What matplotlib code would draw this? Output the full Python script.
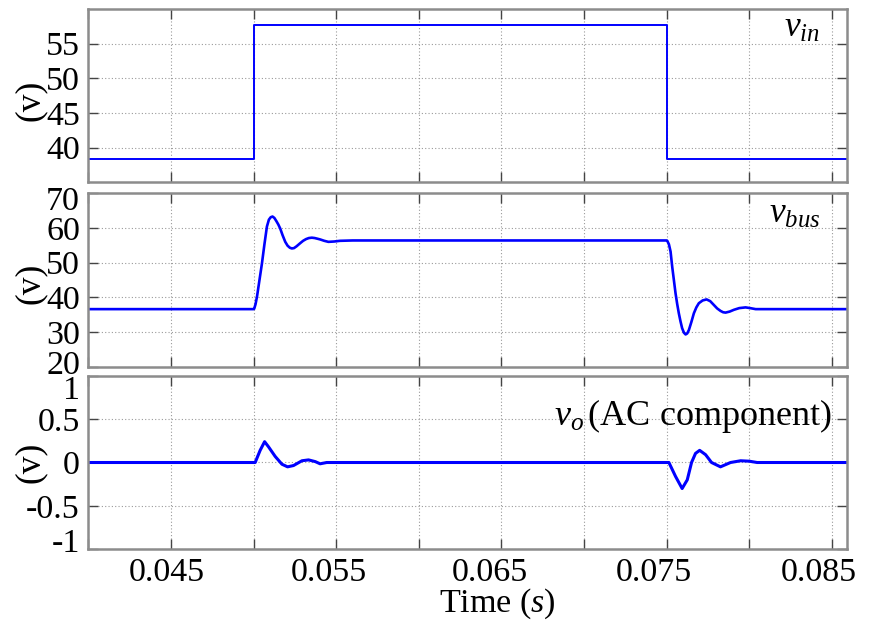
import matplotlib
matplotlib.use("Agg")
import matplotlib.pyplot as plt
from matplotlib.ticker import FixedLocator, FuncFormatter
from matplotlib.transforms import ScaledTranslation
from matplotlib.patches import Rectangle

plt.rcParams["font.family"] = ["Liberation Serif", "DejaVu Serif"]
plt.rcParams["mathtext.fontset"] = "custom"
plt.rcParams["mathtext.rm"] = "Liberation Serif"
plt.rcParams["mathtext.it"] = "Liberation Serif:italic"

# Input voltage step (s, V)
t_in = [0.040, 0.0500, 0.0500, 0.0750, 0.0750, 0.0859]
v_in = [38.4, 38.4, 57.7, 57.7, 38.4, 38.4]

# DC bus voltage response (s, V)
t_bus = [0.0400, 0.0500, 0.05004, 0.05012, 0.05021, 0.05036, 0.05051, 0.05066,
         0.05081, 0.05093, 0.05104, 0.05115, 0.05126, 0.05138, 0.05150, 0.05161,
         0.05176, 0.05192, 0.05206, 0.05220, 0.05232, 0.05245, 0.05260, 0.05282,
         0.05300, 0.05318, 0.05335, 0.05353, 0.05370, 0.05387, 0.05403, 0.05428,
         0.05453, 0.05488, 0.05524, 0.0560, 0.0750,
         0.07504, 0.07514, 0.07524, 0.07534, 0.07544, 0.07554, 0.07564, 0.07574,
         0.07584, 0.07594, 0.07605, 0.07615, 0.07625, 0.07635, 0.07650, 0.07665,
         0.07680, 0.07695, 0.07718, 0.07742, 0.07764, 0.07786, 0.07806, 0.07826,
         0.07842, 0.07857, 0.07882, 0.07907, 0.07940, 0.07978, 0.08005, 0.08039,
         0.0859]
v_bus = [36.6, 36.6, 36.7, 38.0, 40.2, 45.0, 49.8, 55.3,
         60.4, 62.4, 63.1, 63.3, 62.9, 62.0, 61.0, 59.9,
         57.9, 56.0, 54.9, 54.3, 54.1, 54.2, 54.7, 55.6,
         56.3, 56.8, 57.1, 57.2, 57.1, 56.9, 56.7, 56.3,
         56.0, 56.1, 56.3, 56.4, 56.4,
         56.3, 55.3, 53.2, 48.8, 45.0, 41.2, 38.1, 35.4,
         33.1, 31.1, 29.8, 29.3, 29.6, 30.6, 32.9, 35.4,
         37.1, 38.3, 39.1, 39.4, 38.9, 37.8, 36.8, 36.1,
         35.7, 35.6, 35.9, 36.4, 36.9, 37.1, 36.9, 36.6,
         36.6]

# Output voltage, AC component (s, V)
t_o = [0.0400, 0.0501, 0.0504, 0.05067, 0.05091, 0.05131, 0.05172, 0.05206,
       0.05242, 0.05293, 0.05333, 0.05374, 0.05403, 0.05443, 0.07514,
       0.07554, 0.07594, 0.07625, 0.07651, 0.07675, 0.07700, 0.07736, 0.07772,
       0.07826, 0.07887, 0.07948, 0.0800, 0.08048, 0.0859]
v_o = [0.0, 0.0, 0.14, 0.24, 0.18, 0.07, -0.02, -0.05,
       -0.035, 0.02, 0.03, 0.01, -0.015, 0.0, 0.0,
       -0.16, -0.30, -0.20, 0.0, 0.105, 0.14, 0.09, 0.0,
       -0.05, 0.0, 0.02, 0.015, 0.0, 0.0]

x_ticks = [0.040, 0.045, 0.050, 0.055, 0.060, 0.065, 0.070, 0.075, 0.080, 0.085]
x_labels = ["", "0.045", "", "0.055", "", "0.065", "", "0.075", "", "0.085"]

W, H = 871, 625
fig = plt.figure(figsize=(W / 100, H / 100), dpi=100)

def frac_axes(top, bottom, left=88.3, right=846.7):
    return fig.add_axes([left / W, 1 - bottom / H, (right - left) / W, (bottom - top) / H])

ax1 = frac_axes(9.0, 182.3)
ax2 = frac_axes(193.3, 366.7)
ax3 = frac_axes(375.7, 549.3)

line_color = "#0000ff"
spine_color = "#8c8c8c"
fs = 24.5

for ax in (ax1, ax2, ax3):
    ax.set_xlim(0.040, 0.0859)
    ax.set_xticks(x_ticks)
    ax.grid(True, linestyle=(0, (1, 2)), color="#9a9a9a", linewidth=0.8)
    ax.tick_params(direction="in", length=7, width=1.0, color="#444444",
                   top=True, right=True, labelsize=fs, pad=6)
    for s in ax.spines.values():
        s.set_color(spine_color)
        s.set_linewidth(1.8)
    ax.set_ylabel("(v)", fontsize=fs + 1)

ax1.yaxis.set_label_coords(-0.0545, 0.47)
ax2.yaxis.set_label_coords(-0.0545, 0.483)
ax3.yaxis.set_label_coords(-0.0545, 0.5)

for ax in (ax1, ax2):
    ax.tick_params(labelbottom=False)
ax3.set_xticklabels(x_labels)

ax1.plot(t_in, v_in, color=line_color, linewidth=1.4)
ax1.set_ylim(35, 60)
ax1.set_yticks([40, 45, 50, 55])

ax2.plot(t_bus, v_bus, color=line_color, linewidth=1.9)
ax2.set_ylim(20, 70)
ax2.set_yticks([20, 30, 40, 50, 60, 70])

ax3.plot(t_o, v_o, color=line_color, linewidth=2.2)
ax3.set_ylim(-1, 1)
ax3.set_yticks([-1, -0.5, 0, 0.5, 1])
ax3.set_yticklabels(["-1", "-0.5", "0", "0.5", "1"])

ax1.text(0.965, 0.985, r"$v_{in}$", transform=ax1.transAxes, ha="right", va="top", fontsize=fs + 1)
ax2.text(0.965, 0.975, r"$v_{bus}$", transform=ax2.transAxes, ha="right", va="top", fontsize=fs + 1)
ax3.text(0.980, 0.88, r"$v_o\,$(AC component)", transform=ax3.transAxes, ha="right", va="top", fontsize=fs + 1.5)

fig.text(497 / W, 1 - 604 / H, r"Time ($s$)", ha="center", va="center", fontsize=fs)


def nudge(label, dx_px, dy_px):
    label.set_transform(label.get_transform() + ScaledTranslation(dx_px / 100, dy_px / 100, fig.dpi_scale_trans))


# tick-label placement offsets (pixels)
for tick, dx in zip(ax3.xaxis.get_major_ticks(), [0, -4, 0, -7, 0, -11, 0, -13, 0, -13]):
    nudge(tick.label1, dx, 0)
yt2 = ax2.yaxis.get_major_ticks()
nudge(yt2[0].label1, 0, 4)
nudge(yt2[-1].label1, 0, -5)
yt3 = ax3.yaxis.get_major_ticks()
nudge(yt3[0].label1, 0, 9)
nudge(yt3[-1].label1, 0, -12)

fig.savefig("out.png", dpi=100)
